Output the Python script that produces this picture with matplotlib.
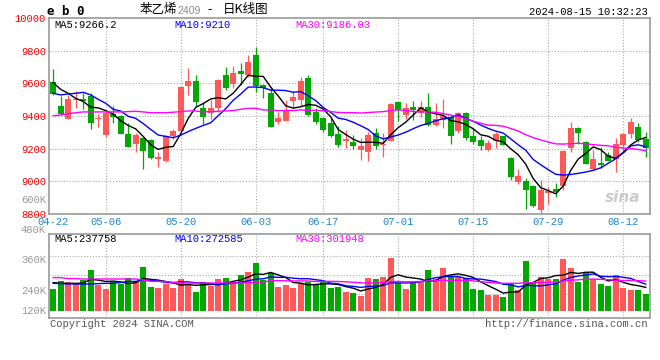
import matplotlib
matplotlib.use('Agg')
import matplotlib.pyplot as plt
import numpy as np

# ---------------- data ----------------
dates = ['04-22','04-23','04-24','04-25','04-26','04-29','04-30',
         '05-06','05-07','05-08','05-09','05-10','05-13','05-14','05-15','05-16','05-17',
         '05-20','05-21','05-22','05-23','05-24','05-27','05-28','05-29','05-30','05-31',
         '06-03','06-04','06-05','06-06','06-07','06-11','06-12','06-13','06-14',
         '06-17','06-18','06-19','06-20','06-21','06-24','06-25','06-26','06-27','06-28',
         '07-01','07-02','07-03','07-04','07-05','07-08','07-09','07-10','07-11','07-12',
         '07-15','07-16','07-17','07-18','07-19','07-22','07-23','07-24','07-25','07-26',
         '07-29','07-30','07-31','08-01','08-02','08-05','08-06','08-07','08-08','08-09',
         '08-12','08-13','08-14','08-15']

opens = [9608,9461,9382,9496,9504,9523,9382,9284,9412,9400,
         9290,9231,9268,9253,9135,9127,9280,9310,9586,9614,
         9447,9416,9449,9651,9596,9676,9653,9776,9590,9543,
         9365,9371,9494,9498,9633,9427,9388,9355,9290,9245,
         9241,9192,9180,9296,9221,9249,9486,9408,9455,9421,
         9455,9345,9376,9392,9310,9416,9276,9253,9192,9245,
         9276,9143,8996,9002,8972,8825,8931,8951,8972,9204,
         9327,9241,9074,9112,9159,9139,9225,9288,9331,9261]
highs = [9688,9522,9529,9555,9539,9539,9412,9433,9461,9404,
         9355,9298,9274,9257,9180,9284,9319,9582,9694,9653,
         9484,9498,9625,9702,9706,9725,9773,9824,9594,9580,
         9427,9498,9553,9641,9651,9447,9396,9388,9339,9314,
         9284,9263,9304,9329,9296,9482,9488,9482,9492,9492,
         9543,9482,9504,9406,9427,9427,9325,9280,9253,9302,
         9280,9147,9076,9023,8976,9008,8963,8988,9190,9365,
         9331,9245,9192,9208,9180,9263,9294,9388,9357,9300]
lows = [9529,9406,9380,9447,9441,9323,9335,9274,9359,9288,
        9208,9178,9076,9139,9090,9121,9260,9306,9529,9463,
        9351,9384,9425,9559,9569,9590,9641,9545,9512,9331,
        9351,9367,9447,9463,9402,9351,9304,9274,9208,9204,
        9200,9131,9125,9196,9151,9247,9371,9384,9376,9392,
        9341,9341,9329,9231,9294,9253,9229,9192,9188,9204,
        9221,9008,8984,8833,8841,8804,8861,8902,8947,9180,
        9229,9104,9070,9080,9123,9059,9180,9263,9243,9151]
closes = [9533,9412,9504,9504,9492,9359,9390,9421,9396,9292,
          9212,9284,9188,9143,9151,9276,9308,9578,9614,9488,
          9392,9449,9620,9574,9663,9659,9731,9586,9574,9335,
          9388,9429,9516,9614,9406,9363,9314,9278,9223,9257,
          9217,9217,9284,9217,9231,9476,9437,9449,9437,9455,
          9345,9380,9400,9280,9416,9268,9243,9217,9235,9290,
          9225,9029,9033,8949,8849,8947,8939,8935,9186,9327,
          9296,9108,9137,9102,9127,9229,9290,9365,9255,9204]
# volume in thousands of lots
volumes = [224,306,296,275,316,421,265,228,292,275,
           340,306,448,245,234,272,238,330,275,194,
           296,255,330,340,292,370,397,493,313,391,
           245,265,238,282,299,265,299,238,248,194,
           183,156,340,330,346,544,282,228,282,292,
           418,330,438,360,346,340,228,214,163,163,
           143,285,214,513,299,346,323,323,533,442,
           292,384,326,275,255,367,238,214,214,173]

# moving-average values before a full window exists
ma5_head = [9604, 9563, 9539, 9508]
ma10_head = [9539, 9529, 9535, 9539, 9545, 9529, 9502, 9478, 9441]
ma30_head = [9402, 9406, 9414, 9420, 9425, 9425, 9425, 9425, 9425, 9425,
             9427, 9429, 9425, 9420, 9420, 9420, 9423, 9427, 9431, 9431,
             9425, 9427, 9429, 9431, 9433, 9441, 9447, 9447, 9437]
vma5_head = [289, 282, 282, 282]
vma10_head = [282, 279, 275, 275, 275, 275, 279, 282, 282]
vma30_head = [340, 340, 330, 330, 326, 326, 326, 326, 326, 326,
              326, 326, 316, 302, 302, 299, 292, 285, 285, 285,
              285, 285, 285, 285, 285, 285, 289, 292, 296]

tick_dates = ['04-22','05-06','05-20','06-03','06-17','07-01','07-15','07-29','08-12']
price_ticks = [8800, 9000, 9200, 9400, 9600, 9800, 10000]
vol_tick_labels = ['480K', '360K', '240K', '120K']
price_ma_labels = ['MA5:9266.2', 'MA10:9210', 'MA30:9186.03']
vol_ma_labels = ['MA5:237758', 'MA10:272585', 'MA30:301948']

# ---------------- helpers ----------------
def moving_avg(vals, n, head):
    vals = np.asarray(vals, dtype=float)
    out = np.empty(len(vals))
    for i in range(len(vals)):
        if i < n - 1:
            out[i] = head[i]
        else:
            out[i] = vals[i - n + 1:i + 1].mean()
    return out

RED = '#FF5858'
GREEN = '#00A800'
GRID = '#AAAAAA'
SPINE = '#9A9A9A'
MONO = 'Liberation Mono'
CJK = ['Noto Sans CJK SC', 'DejaVu Sans']

o = np.array(opens, float); h = np.array(highs, float)
l = np.array(lows, float); c = np.array(closes, float)
v = np.array(volumes, float)
x = np.arange(len(dates))
up = c >= o
cols = np.where(up, RED, GREEN)

W, H = 660, 360
fig = plt.figure(figsize=(6.6, 3.6), dpi=100)
fig.patch.set_facecolor('white')

def fx(px):
    return px / W

def fy(py):
    return 1 - py / H

# main axes box: x 49.45..649.7, y 18..214
ax = fig.add_axes([fx(49.45), fy(214), (649.7 - 49.45) / W, (214 - 18) / H])
# volume axes box: y 234..317.7
axv = fig.add_axes([fx(49.45), fy(317.7), (649.7 - 49.45) / W, (317.7 - 234) / H])

xlim = (-0.5, 79.53)
tick_pos = [dates.index(d) for d in tick_dates]

# ---- price panel ----
ax.set_xlim(*xlim)
ax.set_ylim(8800, 10000)
for yv in price_ticks[1:-1]:
    ax.axhline(yv, color=GRID, lw=0.8, ls=(0, (1, 1.6)), zorder=0)
for xp in tick_pos[1:]:
    ax.axvline(xp, color=GRID, lw=0.8, ls=(0, (1, 1.6)), zorder=0)

ax.vlines(x, l, h, colors=cols, lw=0.9, zorder=2)
body_bottom = np.minimum(o, c)
body_h = np.maximum(np.abs(c - o), 6)
ax.bar(x, body_h, bottom=body_bottom, width=0.76, color=cols, lw=0, zorder=3)

ax.plot(x, moving_avg(c, 5, ma5_head), color='black', lw=1.0, zorder=4)
ax.plot(x, moving_avg(c, 10, ma10_head), color='#0000FF', lw=1.0, zorder=4)
ax.plot(x, moving_avg(c, 30, ma30_head), color='#FF00FF', lw=1.0, zorder=4)

ax.set_yticks(price_ticks)
ax.set_yticklabels([str(t) for t in price_ticks], color='#FF0000', family=MONO, fontsize=7.6)
ax.set_xticks(tick_pos)
ax.set_xticklabels(tick_dates, color='#1E86D6', family=MONO, fontsize=7.6)
ax.tick_params(axis='both', length=0)
ax.tick_params(axis='y', pad=2.5)
ax.tick_params(axis='x', pad=2.5)
for sp in ax.spines.values():
    sp.set_color(SPINE); sp.set_linewidth(1.2)

ma_cols = ['black', '#0000FF', '#FF00FF']
ma_x = [0.008, 0.2075, 0.409]
for t, cc, xx in zip(price_ma_labels, ma_cols, ma_x):
    ax.text(xx, 0.962, t, transform=ax.transAxes, color=cc, family=MONO,
            fontsize=7.6, va='center', ha='left')

ax.text(-0.006, 0.071, '600K', transform=ax.transAxes, color='#999999',
        family=MONO, fontsize=7.6, va='center', ha='right')
ax.text(0.985, 0.085, 'sina', transform=ax.transAxes, color='#CCCCCC',
        fontsize=11, fontweight='bold', style='italic', va='center', ha='right',
        family='DejaVu Sans', zorder=1)

# ---- volume panel ----
axv.set_xlim(*xlim)
axv.set_ylim(-68.3, 784.6)
for f in [0.280, 0.510, 0.741]:
    axv.plot([0, 1], [f, f], transform=axv.transAxes, color=GRID, lw=0.8,
             ls=(0, (1, 1.6)), zorder=0)
for xp in tick_pos[1:]:
    axv.axvline(xp, color=GRID, lw=0.8, ls=(0, (1, 1.6)), zorder=0)
axv.bar(x, v, width=0.8, color=cols, lw=0, zorder=2)
axv.plot(x, moving_avg(v, 5, vma5_head), color='black', lw=1.0, zorder=3)
axv.plot(x, moving_avg(v, 10, vma10_head), color='#0000FF', lw=1.0, zorder=3)
axv.plot(x, moving_avg(v, 30, vma30_head), color='#FF00FF', lw=1.0, zorder=3)
axv.set_xticks([]); axv.set_yticks([])
for sp in axv.spines.values():
    sp.set_color(SPINE); sp.set_linewidth(1.2)

for t, yy in zip(vol_tick_labels, [1.048, 0.689, 0.319, 0.080]):
    axv.text(-0.006, yy, t, transform=axv.transAxes, color='#999999',
             family=MONO, fontsize=7.6, va='center', ha='right')
for t, cc, xx in zip(vol_ma_labels, ma_cols, ma_x):
    axv.text(xx, 0.94, t, transform=axv.transAxes, color=cc, family=MONO,
             fontsize=7.6, va='center', ha='left')

# ---- header / footer texts ----
fig.text(fx(47), fy(11.5), 'e b 0', family='DejaVu Sans Mono', fontweight='bold',
         fontsize=9, va='center', ha='left')
fig.text(fx(140), fy(10), '苯乙烯', family=CJK, fontsize=9, va='center', ha='left')
fig.text(fx(177.5), fy(10.5), '2409', family='Liberation Sans', color='#8A8A8A',
         fontsize=7.6, va='center', ha='left')
fig.text(fx(210), fy(10), '-', family='DejaVu Sans', fontsize=9, va='center', ha='center')
fig.text(fx(223), fy(10), '日K线图', family=CJK, fontsize=9, va='center', ha='left')
fig.text(fx(648), fy(12.3), '2024-08-15 10:32:23', family=MONO, fontsize=7.6,
         va='center', ha='right')
fig.text(fx(50), fy(324), 'Copyright 2024 SINA.COM', family=MONO, fontsize=7.6,
         color='#555555', va='center', ha='left')
fig.text(fx(648), fy(324), 'http://finance.sina.com.cn', family=MONO, fontsize=7.6,
         color='#555555', va='center', ha='right')

fig.savefig('out.png', dpi=100, facecolor='white')
